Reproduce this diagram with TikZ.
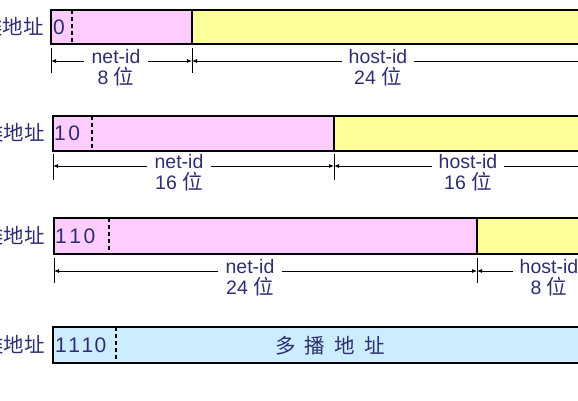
\documentclass[tikz,border=0pt]{standalone}
\usepackage{fontspec}
\setmainfont{Liberation Sans}
\newfontfamily\cjk{Noto Sans CJK SC}[Scale=1.05]
\usetikzlibrary{arrows.meta}
\definecolor{netpink}{RGB}{255,204,255}
\definecolor{hostyellow}{RGB}{255,255,153}
\definecolor{mcblue}{RGB}{204,236,255}
\definecolor{inkblue}{RGB}{46,46,112}

\begin{document}
\begin{tikzpicture}[x=1pt,y=-1pt,
    font=\fontsize{19.5}{22}\selectfont,
    addrbox/.style={draw=black,line width=1.7pt},
    bitsep/.style={draw=black,line width=1.3pt,dash pattern=on 4pt off 3pt},
    netdivider/.style={draw=black,line width=1.3pt},
    dimtick/.style={draw=black,line width=0.8pt},
    dimline/.style={draw=black,line width=0.8pt,-{Latex[length=5pt,width=4pt]}},
    dimtxt/.style={text=inkblue,inner xsep=7pt,inner ysep=0pt,anchor=mid},
    rowname/.style={text=inkblue,anchor=east,inner sep=0pt},
    bitprefix/.style={text=inkblue,anchor=west,inner sep=1pt,font=\fontsize{21}{24}\selectfont}]
                \useasboundingbox (0,0) rectangle (578,400);
                \clip (0,0) rectangle (578,400);

                % A
                \fill[netpink] (51,10) rectangle (192,44);
                \fill[hostyellow] (192,10) rectangle (620,44);
                \draw[netdivider] (192,10) -- (192,44);
                \draw[bitsep] (72,10) -- (72,44);
                \draw[addrbox] (51,10) rectangle (620,44);
                \node[rowname] (a-name) at (44,27) {\cjk 类地址};
                \node[bitprefix] (a-prefix) at (52,27) {0};

                \draw[dimtick] (51,48) -- (51,73);
                \draw[dimtick] (192,48) -- (192,73);
                \coordinate (a-l) at (51,61);
                \coordinate (a-m) at (192,61);
                \coordinate (a-r) at (620,61);
                \node[dimtxt] (a-net) at (116,61) {net-id};
                \node[dimtxt,anchor=base] (a-netbits) at ([yshift=-21pt]a-net.base) {8 {\cjk 位}};
                \node[dimtxt] (a-host) at (378,61) {host-id};
                \node[dimtxt,anchor=base] (a-hostbits) at ([yshift=-21pt]a-host.base) {24 {\cjk 位}};
                \draw[dimline] (a-net.mid west) -- (a-l);
                \draw[dimline] (a-net.mid east) -- (a-m);
                \draw[dimline] (a-host.mid west) -- (a-m);
                \draw[dimtick] (a-host.mid east) -- (a-r);

                % B
                \fill[netpink] (53,116) rectangle (334,151);
                \fill[hostyellow] (334,116) rectangle (620,151);
                \draw[netdivider] (334,116) -- (334,151);
                \draw[bitsep] (92,116) -- (92,151);
                \draw[addrbox] (53,116) rectangle (620,151);
                \node[rowname] (b-name) at (45,133) {\cjk 类地址};
                \node[bitprefix] (b-prefix) at (53,133) {1\kern2.5pt0};

                \draw[dimtick] (53,154) -- (53,180);
                \draw[dimtick] (334,154) -- (334,180);
                \coordinate (b-l) at (53,166);
                \coordinate (b-m) at (334,166);
                \coordinate (b-r) at (620,166);
                \node[dimtxt] (b-net) at (179,166) {net-id};
                \node[dimtxt,anchor=base] (b-netbits) at ([yshift=-21pt]b-net.base) {16 {\cjk 位}};
                \node[dimtxt] (b-host) at (468,166) {host-id};
                \node[dimtxt,anchor=base] (b-hostbits) at ([yshift=-21pt]b-host.base) {16 {\cjk 位}};
                \draw[dimline] (b-net.mid west) -- (b-l);
                \draw[dimline] (b-net.mid east) -- (b-m);
                \draw[dimline] (b-host.mid west) -- (b-m);
                \draw[dimtick] (b-host.mid east) -- (b-r);

                % C
                \fill[netpink] (54,218) rectangle (477,254);
                \fill[hostyellow] (477,218) rectangle (620,254);
                \draw[netdivider] (477,218) -- (477,254);
                \draw[bitsep] (109,218) -- (109,254);
                \draw[addrbox] (54,218) rectangle (620,254);
                \node[rowname] (c-name) at (45,236) {\cjk 类地址};
                \node[bitprefix] (c-prefix) at (54,236) {1\kern2.5pt1\kern2.5pt0};

                \draw[dimtick] (54,258) -- (54,283);
                \draw[dimtick] (477,258) -- (477,283);
                \coordinate (c-l) at (54,271);
                \coordinate (c-m) at (477,271);
                \node[dimtxt] (c-net) at (250,271) {net-id};
                \node[dimtxt,anchor=base] (c-netbits) at ([yshift=-21pt]c-net.base) {24 {\cjk 位}};
                \node[dimtxt] (c-host) at (549,271) {host-id};
                \node[dimtxt,anchor=base] (c-hostbits) at ([yshift=-21pt]c-host.base) {8 {\cjk 位}};
                \draw[dimline] (c-net.mid west) -- (c-l);
                \draw[dimline] (c-net.mid east) -- (c-m);
                \draw[dimline] (c-host.mid west) -- (c-m);

                % D
                \fill[mcblue] (53,327) rectangle (620,363);
                \draw[bitsep] (116,327) -- (116,363);
                \draw[addrbox] (53,327) rectangle (620,363);
                \node[rowname] (d-name) at (45,345) {\cjk 类地址};
                \node[bitprefix] (d-prefix) at (54,345) {1\kern1.5pt1\kern1.5pt1\kern1.5pt0};
                \node[text=inkblue,inner sep=0pt] (d-group) at (330,346) {\cjk 多\hspace{0.45em}播\hspace{0.45em}地\hspace{0.45em}址};
            \end{tikzpicture}
\end{document}
